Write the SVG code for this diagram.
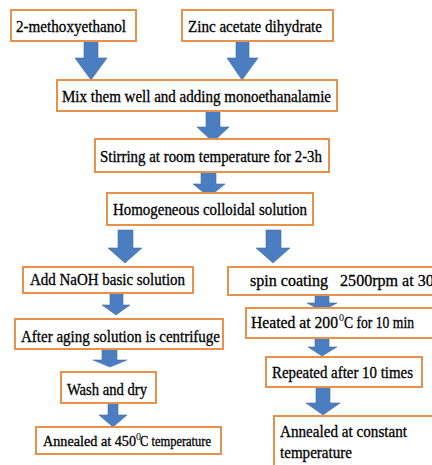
<svg xmlns="http://www.w3.org/2000/svg" width="432" height="465" viewBox="0 0 432 465">
<style>
.box{fill:#ffffff;stroke:#E8914A;stroke-width:2}
.t{font-size:16px;fill:#000000;stroke:#000000;stroke-width:0.3}
.s{font-size:14px}
.sup{font-size:10px;fill:#000000}
.ar{fill:#4A7EC0;stroke:#3F6FA8;stroke-width:0.6}
</style>
<rect width="432" height="465" fill="#ffffff"/>
<g id="connectors">
<polygon class="ar" points="84,41 98,41 98,58 107,58 91,80 75,58 84,58"/>
<polygon class="ar" points="236,41 249,41 249,58 258,58 242,80 227,58 236,58"/>
<polygon class="ar" points="206,111 220,111 220,127 229,127 213,142 197,127 206,127"/>
<polygon class="ar" points="201,172 216,172 216,184 225,184 209,197 193,184 201,184"/>
<polygon class="ar" points="118,230 133,230 133,248 142,248 125,263 108,248 118,248"/>
<polygon class="ar" points="266,230 281,230 281,248 290,248 273,263 256,248 266,248"/>
<polygon class="ar" points="110,293 123,293 123,305 130,305 116,315 102,305 110,305"/>
<polygon class="ar" points="315,295 329,295 329,303 337,303 322,311 307,303 315,303"/>
<polygon class="ar" points="315,338 329,338 329,347 337,347 322,356 308,347 315,347"/>
<polygon class="ar" points="316,387 330,387 330,403 340,403 323,415 306,403 316,403"/>
<polygon class="ar" points="102,349 117,349 117,360 127,360 110,367 93,360 102,360"/>
<polygon class="ar" points="108,403 118,403 118,415 127,415 113,427 99,415 108,415"/>
</g>
<g id="n1"><rect class="box" x="11" y="10" width="125" height="31"/><text class="t" font-family="Liberation Serif" x="16" y="32" textLength="110" lengthAdjust="spacingAndGlyphs">2-methoxyethanol</text></g>
<g id="n2"><rect class="box" x="182" y="10" width="151" height="31"/><text class="t" font-family="Liberation Serif" x="188" y="32" textLength="134" lengthAdjust="spacingAndGlyphs">Zinc acetate dihydrate</text></g>
<g id="n3"><rect class="box" x="57" y="80" width="280" height="31"/><text class="t" font-family="Liberation Serif" x="62" y="102" textLength="269" lengthAdjust="spacingAndGlyphs">Mix them well and adding monoethanalamie</text></g>
<g id="n4"><rect class="box" x="95" y="139" width="234" height="33"/><text class="t" font-family="Liberation Serif" x="100" y="162" textLength="222" lengthAdjust="spacingAndGlyphs">Stirring at room temperature for 2-3h</text></g>
<g id="n5"><rect class="box" x="107" y="193" width="206" height="32"/><text class="t" font-family="Liberation Serif" x="113" y="215" textLength="194" lengthAdjust="spacingAndGlyphs">Homogeneous colloidal solution</text></g>
<g id="n6"><rect class="box" x="23" y="267" width="170" height="26"/><text class="t" font-family="Liberation Serif" x="30" y="285" textLength="155" lengthAdjust="spacingAndGlyphs">Add NaOH basic solution</text></g>
<g id="n7"><rect class="box" x="228" y="267" width="215" height="28"/><text class="t" font-family="Liberation Serif" x="250" y="286" textLength="190" lengthAdjust="spacingAndGlyphs" xml:space="preserve">spin coating   2500rpm at 30s</text></g>
<g id="n8"><rect class="box" x="15" y="319" width="208" height="30"/><text class="t" font-family="Liberation Serif" x="21" y="342" textLength="199" lengthAdjust="spacingAndGlyphs">After aging solution is centrifuge</text></g>
<g id="n9"><rect class="box" x="246" y="308" width="196" height="30"/><text class="t" font-family="Liberation Serif" x="251" y="328" textLength="87" lengthAdjust="spacingAndGlyphs">Heated at 200</text><text class="sup" font-family="Liberation Serif" x="339" y="321">0</text><text class="t" font-family="Liberation Serif" x="344" y="328" textLength="70" lengthAdjust="spacingAndGlyphs">C for 10 min</text></g>
<g id="n10"><rect class="box" x="266" y="357" width="156" height="30"/><text class="t" font-family="Liberation Serif" x="272" y="378" textLength="141" lengthAdjust="spacingAndGlyphs">Repeated after 10 times</text></g>
<g id="n11"><rect class="box" x="61" y="372" width="95" height="31"/><text class="t" font-family="Liberation Serif" x="67" y="395" textLength="80" lengthAdjust="spacingAndGlyphs">Wash and dry</text></g>
<g id="n12"><rect class="box" x="36" y="427" width="185" height="27"/><text class="t s" font-family="Liberation Serif" x="43" y="446" textLength="93" lengthAdjust="spacingAndGlyphs">Annealed at 450</text><text class="sup" font-family="Liberation Serif" font-size="9" x="136" y="440">0</text><text class="t s" font-family="Liberation Serif" x="140" y="446" textLength="71" lengthAdjust="spacingAndGlyphs">C temperature</text></g>
<g id="n13"><rect class="box" x="274" y="416" width="170" height="60"/><text class="t" font-family="Liberation Serif" x="280" y="437" textLength="127" lengthAdjust="spacingAndGlyphs">Annealed at constant</text><text class="t" font-family="Liberation Serif" x="280" y="458" textLength="72" lengthAdjust="spacingAndGlyphs">temperature</text></g>
</svg>
